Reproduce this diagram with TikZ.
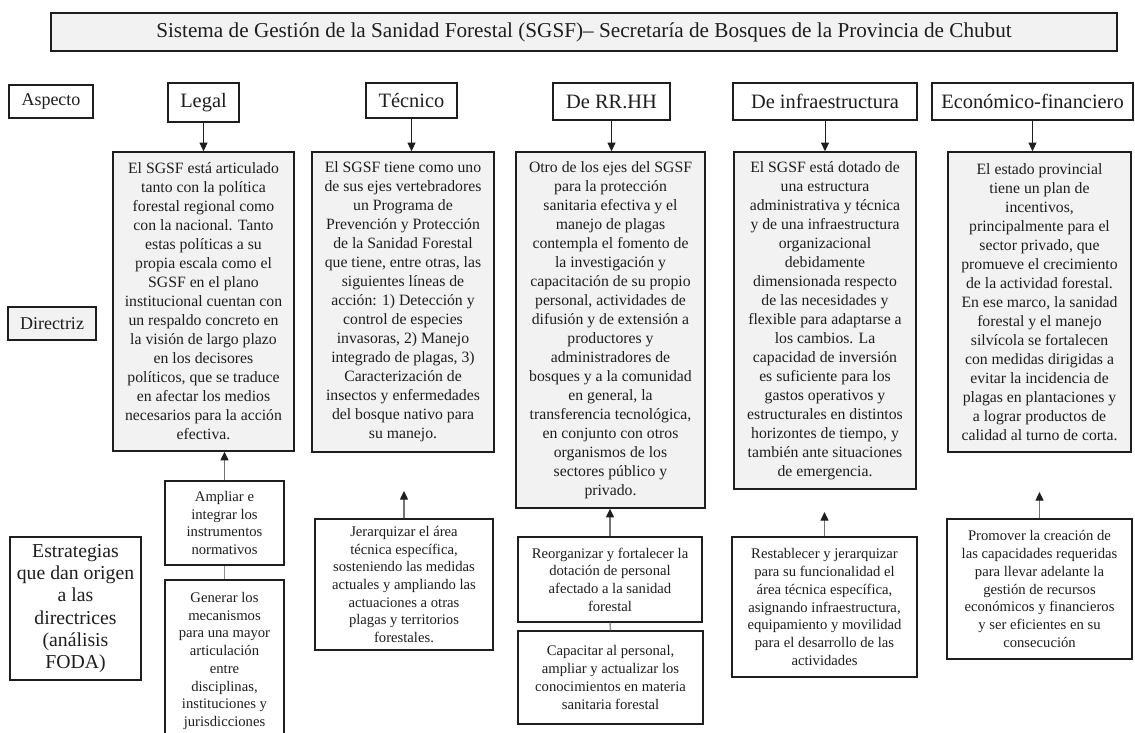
\documentclass[tikz,border=0pt]{standalone}
\usepackage{fontspec}
\setmainfont{Liberation Serif}
\usetikzlibrary{arrows.meta}
\definecolor{boxgray}{HTML}{F2F2F2}
\definecolor{ink}{HTML}{1E1E1E}
\begin{document}
\begin{tikzpicture}[x=0.75pt,y=-0.75pt,
  base/.style={draw=ink,line width=1.1pt,text=ink,inner sep=2pt,align=center,anchor=center},
  titlebox/.style={base,fill=boxgray,font=\fontsize{15.9}{18}\selectfont},
  headbox/.style={base,fill=white,font=\fontsize{15.3}{18}\selectfont},
  labbox/.style={base,fill=white,font=\fontsize{13.5}{16}\selectfont},
  dirbox/.style={base,fill=boxgray,font=\fontsize{11.8}{14.25}\selectfont},
  strbox/.style={base,fill=white,font=\fontsize{11}{13.3}\selectfont},
  downarrow/.style={draw=ink,line width=0.6pt,-{Triangle[length=6.5pt,width=6pt]}},
  uparrow/.style={draw=black!55,line width=1pt,-{Triangle[length=6.5pt,width=6pt,color=ink]}},
  joinline/.style={draw=black!45,line width=1pt},
  wh/.style n args={2}{minimum width=#1*0.75pt,minimum height=#2*0.75pt}
]
\useasboundingbox (0,0) rectangle (1135,732);
\fill[white] (0,0) rectangle (1135,732);

% title
\node[titlebox,wh={1066}{38}] (title) at (584,32) {Sistema de Gestión de la Sanidad Forestal (SGSF)– Secretaría de Bosques de la Provincia de Chubut};

% row labels
\node[labbox,wh={84}{33}] (lA) at (51,101.5) {Aspecto};
\node[labbox,fill=boxgray,wh={88}{33}] (lD) at (52,323.5) {Directriz};
\node[labbox,wh={131}{143},font=\fontsize{14.8}{16.6}\selectfont] (lE) at (75.5,608.5) {Estrategias\\que dan origen\\a las\\directrices\\(análisis\\FODA)};

% headers
\node[headbox,wh={71}{39}] (hL) at (203.5,102.5) {Legal};
\node[headbox,wh={91}{35}] (hT) at (411.5,100.5) {Técnico};
\node[headbox,wh={117}{37}] (hR) at (611.5,101.5) {De RR.HH};
\node[headbox,wh={184}{37}] (hI) at (825,101.5) {De infraestructura};
\node[headbox,wh={201}{37}] (hE) at (1032.5,101.5) {Económico-financiero};

% directrices
\node[dirbox,wh={181}{299}] (dL) at (203.5,301.5) {El SGSF está articulado\\tanto con la política\\forestal regional como\\con la nacional. Tanto\\estas políticas a su\\propia escala como el\\SGSF en el plano\\institucional cuentan con\\un respaldo concreto en\\la visión de largo plazo\\en los decisores\\políticos, que se traduce\\en afectar los medios\\necesarios para la acción\\efectiva.};
\node[dirbox,wh={182}{300}] (dT) at (403,302) {El SGSF tiene como uno\\de sus ejes vertebradores\\un Programa de\\Prevención y Protección\\de la Sanidad Forestal\\que tiene, entre otras, las\\siguientes líneas de\\acción: 1) Detección y\\control de especies\\invasoras, 2) Manejo\\integrado de plagas, 3)\\Caracterización de\\insectos y enfermedades\\del bosque nativo para\\su manejo.};
\node[dirbox,wh={189}{356}] (dR) at (610.5,330) {Otro de los ejes del SGSF\\para la protección\\sanitaria efectiva y el\\manejo de plagas\\contempla el fomento de\\la investigación y\\capacitación de su propio\\personal, actividades de\\difusión y de extensión a\\productores y\\administradores de\\bosques y a la comunidad\\en general, la\\transferencia tecnológica,\\en conjunto con otros\\organismos de los\\sectores público y\\privado.};
\node[dirbox,wh={182}{337}] (dI) at (825,320.5) {El SGSF está dotado de\\una estructura\\administrativa y técnica\\y de una infraestructura\\organizacional\\debidamente\\dimensionada respecto\\de las necesidades y\\flexible para adaptarse a\\los cambios. La\\capacidad de inversión\\es suficiente para los\\gastos operativos y\\estructurales en distintos\\horizontes de tiempo, y\\también ante situaciones\\de emergencia.};
\node[dirbox,wh={183}{300}] (dE) at (1039.5,302) {El estado provincial\\tiene un plan de\\incentivos,\\principalmente para el\\sector privado, que\\promueve el crecimiento\\de la actividad forestal.\\En ese marco, la sanidad\\forestal y el manejo\\silvícola se fortalecen\\con medidas dirigidas a\\evitar la incidencia de\\plagas en plantaciones y\\a lograr productos de\\calidad al turno de corta.};

% estrategias
\node[strbox,wh={119}{84}] (sA) at (224.5,523) {Ampliar e\\integrar los\\instrumentos\\normativos};
\node[strbox,wh={119}{162}] (sG) at (224.5,661) {Generar los\\mecanismos\\para una mayor\\articulación\\entre\\disciplinas,\\instituciones y\\jurisdicciones};
\node[strbox,wh={178}{131}] (sJ) at (404,584.5) {Jerarquizar el área\\técnica específica,\\sosteniendo las medidas\\actuales y ampliando las\\actuaciones a otras\\plagas y territorios\\forestales.};
\node[strbox,wh={184}{85}] (sR) at (610,579.5) {Reorganizar y fortalecer la\\dotación de personal\\afectado a la sanidad\\forestal};
\node[strbox,wh={185}{93}] (sC) at (610.5,677.5) {Capacitar al personal,\\ampliar y actualizar los\\conocimientos en materia\\sanitaria forestal};
\node[strbox,wh={185}{140}] (sB) at (824.5,607) {Restablecer y jerarquizar\\para su funcionalidad el\\área técnica específica,\\asignando infraestructura,\\equipamiento y movilidad\\para el desarrollo de las\\actividades};
\node[strbox,wh={185}{140}] (sP) at (1039.5,589) {Promover la creación de\\las capacidades requeridas\\para llevar adelante la\\gestión de recursos\\económicos y financieros\\y ser eficientes en su\\consecución};

% top arrows
\draw[downarrow] (hL.south) -- (hL.south |- dL.north);
\draw[downarrow] (hT.south) -- (hT.south |- dT.north);
\draw[downarrow] (hR.south) -- (hR.south |- dR.north);
\draw[downarrow] (hI.south) -- (hI.south |- dI.north);
\draw[downarrow] (hE.south) -- (hE.south |- dE.north);

% bottom arrows
\coordinate (aT) at (404,491);
\coordinate (aI) at (824.5,512);
\coordinate (aE) at (1039.5,492);
\draw[uparrow] (sA.north) -- (sA.north |- dL.south);
\draw[uparrow] (sJ.north) -- (aT);
\draw[uparrow] (sR.north) -- (sR.north |- dR.south);
\draw[uparrow] (sB.north) -- (aI);
\draw[uparrow] (sP.north) -- (aE);

% joining lines
\draw[joinline] (sA.south) -- (sG.north);
\draw[joinline] (sR.south) -- (sC.north);
\end{tikzpicture}
\end{document}
